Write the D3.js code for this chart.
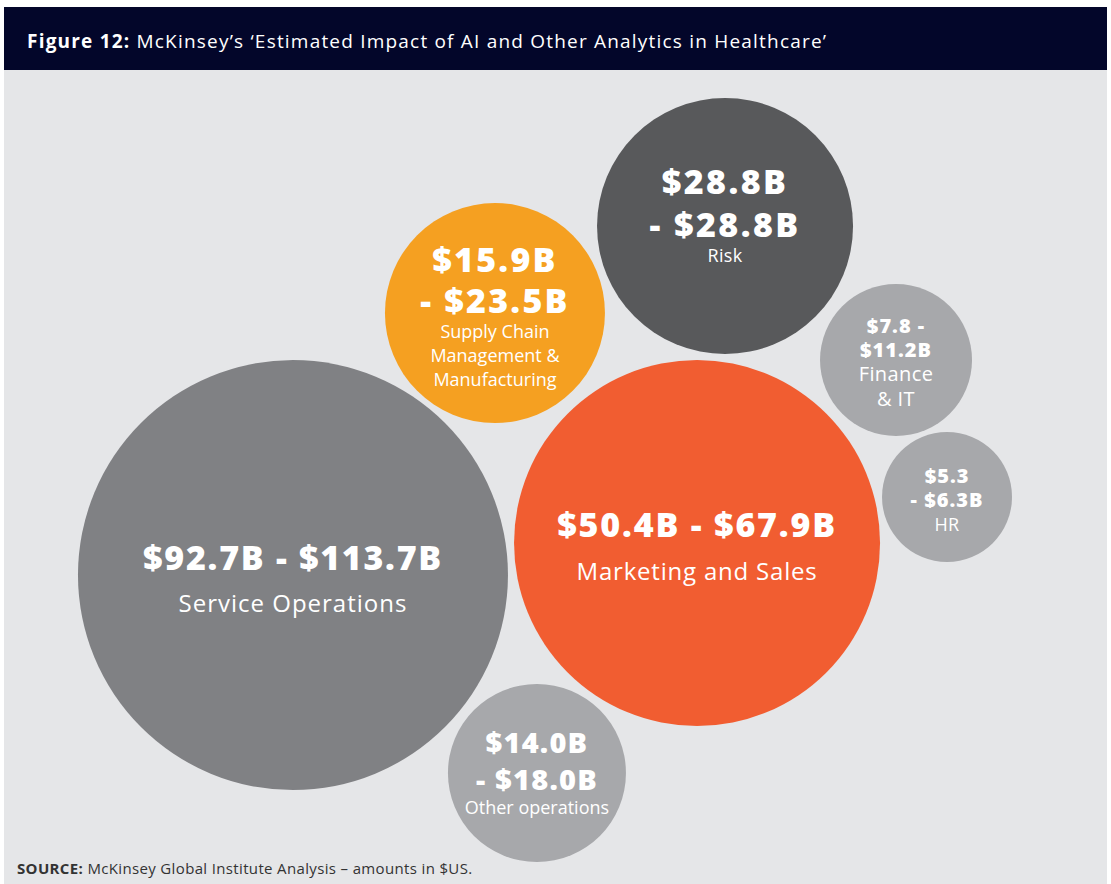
<!DOCTYPE html>
<html>
<head>
<meta charset="utf-8">
<script src="https://cdn.jsdelivr.net/npm/d3@7"></script>
<style>
  html, body { margin: 0; padding: 0; background: #ffffff; }
  svg { display: block; font-family: "Open Sans", "Lato", sans-serif; }
</style>
</head>
<body>
<svg id="chart" width="1111" height="884"></svg>
<script>
// Data: McKinsey estimated impact ranges, $US billions
const categories = ["Service Operations", "Marketing and Sales", "Supply Chain Management & Manufacturing",
                    "Risk", "Finance & IT", "HR", "Other operations"];
const lowValues  = [92.7, 50.4, 15.9, 28.8, 7.8, 5.3, 14.0];
const highValues = [113.7, 67.9, 23.5, 28.8, 11.2, 6.3, 18.0];

// how each label is broken into lines (text only)
const valueLines = [
    ["$92.7B - $113.7B"],
    ["$50.4B - $67.9B"],
    ["$15.9B", "- $23.5B"],
    ["$28.8B", "- $28.8B"],
    ["$7.8 -", "$11.2B"],
    ["$5.3", "- $6.3B"],
    ["$14.0B", "- $18.0B"]
];
const nameLines = [
    ["Service Operations"],
    ["Marketing and Sales"],
    ["Supply Chain", "Management &", "Manufacturing"],
    ["Risk"],
    ["Finance", "& IT"],
    ["HR"],
    ["Other operations"]
];

// Layout of the hand-placed bubbles (panel units 0..100), separate from the data
const layoutX = [26.37, 62.74, 44.55, 65.26, 80.65, 85.24, 48.33];
const layoutY = [65.05, 61.43, 35.41, 25.57, 40.72, 56.22, 87.44];
const layoutR = [215, 183, 110, 128, 76, 65, 89];
const colors  = ["#808184", "#f15d31", "#f5a021", "#58595b", "#a7a8ab", "#a7a8ab", "#a7a8ab"];

// text styling per bubble
const valueSize = [34, 34, 34, 34, 20, 20, 29];
const valueLS   = [1.7, 1.8, 2.2, 2.4, 1, 1, 1.2];
const nameSize  = [24, 24, 18, 18, 20, 18, 18];
const nameLS    = [1, 0.8, 0, 0.3, 0.4, 0.3, 0];
const valueBase = [[570], [537], [272, 313], [194, 237], [333, 357], [483, 507], [753, 790]];
const nameBase  = [[612], [580], [338, 362, 386], [262], [381, 406], [531], [814]];

const W = 1111, H = 884;
const panel = {x0: 4, x1: 1107, y0: 70};

const svg = d3.select("#chart");

// background panel
svg.append("rect")
    .attr("x", panel.x0).attr("y", 7)
    .attr("width", panel.x1 - panel.x0).attr("height", H - 7)
    .attr("fill", "#e5e6e8");

// title bar
svg.append("rect")
    .attr("x", panel.x0).attr("y", 7)
    .attr("width", panel.x1 - panel.x0).attr("height", panel.y0 - 7)
    .attr("fill", "#03062a");

let title = svg.append("text")
    .attr("x", 27).attr("y", 48)
    .attr("fill", "#ffffff")
    .style("font-size", "19px")
    .style("letter-spacing", "1.2px");
title.append("tspan").attr("font-weight", 700).text("Figure 12:");
title.append("tspan").text(" McKinsey\u2019s \u2018Estimated Impact of AI and Other Analytics in Healthcare\u2019");

// scales from panel units to pixels
const x = d3.scaleLinear().domain([0, 100]).range([0, W]);
const y = d3.scaleLinear().domain([0, 100]).range([0, H]);

const data = categories.map((c, i) => ({
    name: c, low: lowValues[i], high: highValues[i],
    cx: x(layoutX[i]), cy: y(layoutY[i]), r: layoutR[i], color: colors[i], i: i
}));

let bubbles = svg.selectAll("g.bubble")
    .data(data)
    .enter().append("g")
    .attr("class", "bubble");

bubbles.append("circle")
    .attr("cx", d => d.cx)
    .attr("cy", d => d.cy)
    .attr("r", d => d.r)
    .attr("fill", d => d.color);

bubbles.each(function(d) {
    let g = d3.select(this);
    let i = d.i;
    valueLines[i].forEach((t, k) => {
        g.append("text")
            .attr("x", d.cx).attr("y", valueBase[i][k])
            .attr("text-anchor", "middle")
            .attr("fill", "#ffffff")
            .attr("font-weight", 800)
            .style("font-size", valueSize[i] + "px")
            .style("letter-spacing", valueLS[i] + "px")
            .text(t);
    });
    nameLines[i].forEach((t, k) => {
        g.append("text")
            .attr("x", d.cx).attr("y", nameBase[i][k])
            .attr("text-anchor", "middle")
            .attr("fill", "#ffffff")
            .style("font-size", nameSize[i] + "px")
            .style("letter-spacing", nameLS[i] + "px")
            .text(t);
    });
});

// source line
let src = svg.append("text")
    .attr("x", 17).attr("y", 874)
    .attr("fill", "#333333")
    .style("font-size", "15px")
    .style("letter-spacing", "0.35px");
src.append("tspan").attr("font-weight", 700).text("SOURCE:");
src.append("tspan").text(" McKinsey Global Institute Analysis \u2013 amounts in $US.");
</script>
</body>
</html>
